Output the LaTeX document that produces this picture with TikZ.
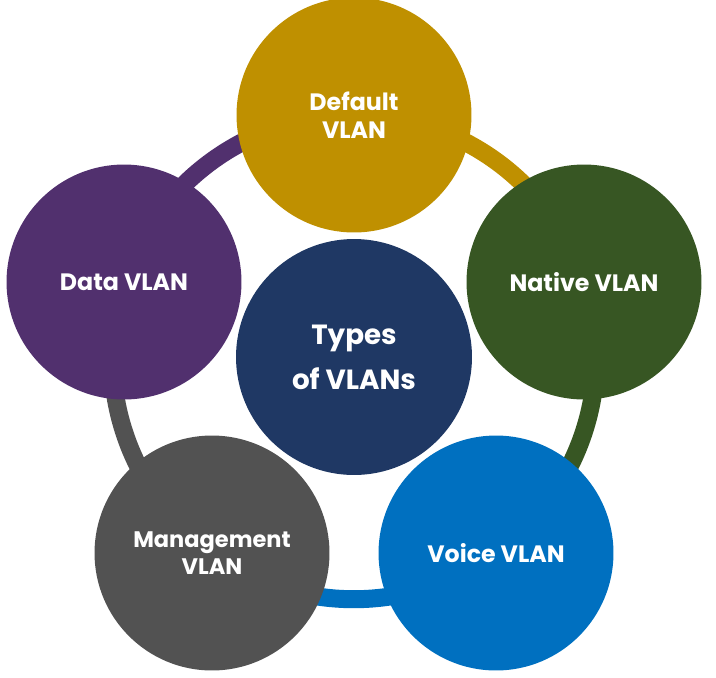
\documentclass[tikz,border=0pt]{standalone}
\usepackage{fontspec}
\setmainfont{Poppins}
\begin{document}
\begin{tikzpicture}[x=0.02cm,y=-0.02cm,
  ring/.style={line width=0.36cm},
  bubble/.style={circle,inner sep=0pt,minimum size=4.7cm,text=white,
    font=\bfseries\fontsize{13.5}{16}\selectfont,align=center},
  hub/.style={bubble,minimum size=4.72cm,font=\bfseries\fontsize{15.8}{25.5}\selectfont}]
  \definecolor{cgold}{HTML}{BF9000}
  \definecolor{cgreen}{HTML}{375623}
  \definecolor{cblue}{HTML}{0070C0}
  \definecolor{cgrey}{HTML}{525252}
  \definecolor{cpurple}{HTML}{51306E}
  \definecolor{cnavy}{HTML}{1F3864}
  \useasboundingbox (0,0) rectangle (716,677);
  % positions on the ring (radius 242 around the hub)
  \coordinate (o) at (354,357);
  \coordinate (pdef) at (354,115);
  \coordinate (pnat) at (584,282);
  \coordinate (pvoi) at (496,553);
  \coordinate (pman) at (212,553);
  \coordinate (pdat) at (124,282);
  % coloured ring segments, each running clockwise to the next circle
  \draw[ring,cgold]   (pdef) arc[start angle=90,  end angle=18,   radius=4.84cm];
  \draw[ring,cgreen]  (pnat) arc[start angle=18,  end angle=-54,  radius=4.84cm];
  \draw[ring,cblue]   (pvoi) arc[start angle=-54, end angle=-126, radius=4.84cm];
  \draw[ring,cgrey]   (pman) arc[start angle=-126,end angle=-198, radius=4.84cm];
  \draw[ring,cpurple] (pdat) arc[start angle=162, end angle=90,   radius=4.84cm];
  % circles
  \node[hub,fill=cnavy] (hub) at (o) {Types\\of VLANs};
  \node[bubble,fill=cgold] (def) at (pdef) {Default\\VLAN};
  \node[bubble,fill=cgreen] (nat) at (pnat) {Native VLAN};
  \node[bubble,fill=cblue] (voi) at (pvoi) {Voice VLAN};
  \node[bubble,fill=cgrey,font=\bfseries\fontsize{12.8}{15.5}\selectfont] (man) at (pman) {Management\\VLAN};
  \node[bubble,fill=cpurple] (dat) at (pdat) {Data VLAN};
\end{tikzpicture}
\end{document}
